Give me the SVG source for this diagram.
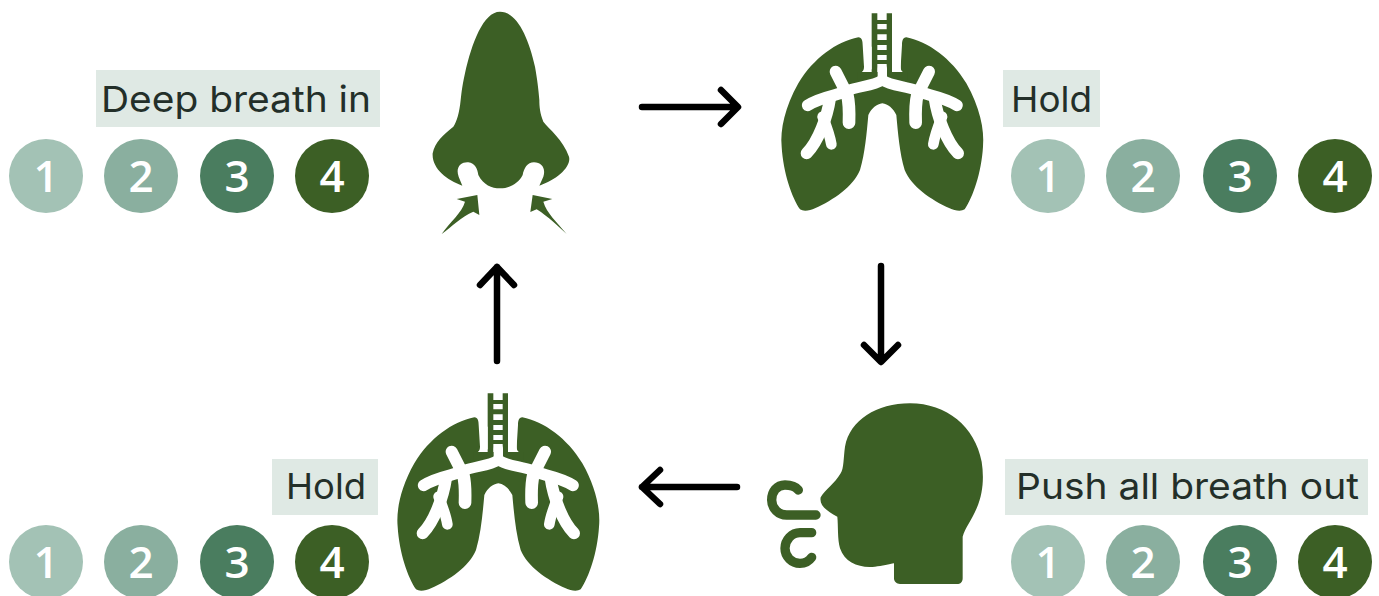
<svg xmlns="http://www.w3.org/2000/svg" width="1379" height="596" viewBox="0 0 1379 596">
<style>
.ink{fill:#3c5f25}
.label{fill:#dfe9e4}
.lt{font-family:"Inter","Liberation Sans",sans-serif;font-size:36px;fill:#232f29}
.n{font-family:"Open Sans","Liberation Sans",sans-serif;font-size:44px;font-weight:600;fill:#fff;text-anchor:middle}
.c1{fill:#a3c2b5}.c2{fill:#8aaf9f}.c3{fill:#4a7d5f}.c4{fill:#3c5f25}
.wb{fill:none;stroke:#fff;stroke-linecap:round;stroke-linejoin:round}
.arrow{fill:none;stroke:#000;stroke-width:6.5;stroke-linecap:round;stroke-linejoin:round}
.breath{fill:none;stroke:#3c5f25;stroke-width:28;stroke-linecap:round}
</style>
<defs>
<g id="lung">
<path class="ink" d="M265,112C200,125 130,175 85,250C45,320 30,390 35,440C40,520 65,590 90,628C100,635 120,632 135,625C190,600 250,560 270,510C285,460 290,400 295,345C305,325 320,312 337,310C354,312 369,325 379,345C384,400 389,460 404,510C424,560 484,600 539,625C554,632 574,635 584,628C609,590 634,520 639,440C644,390 629,320 589,250C544,175 474,125 409,112C398,112 396,125 396,135L392,200C392,212 398,218 408,218C418,218 365,240 337,240C309,240 256,218 266,218C276,218 282,212 282,200L278,135C278,125 276,112 265,112Z"/>
<path class="ink" d="M305,40H322V60H350V40H366V235H305ZM322,72V88H350V72ZM322,103V120H350V103ZM322,135V150H350V135ZM322,165V180H350V165ZM322,192V235H350V192Z" fill-rule="evenodd"/>
<path class="ink" d="M262,216H412V240H262Z"/>
<rect fill="#fff" x="282" y="140" width="23" height="68"/>
<rect fill="#fff" x="366" y="140" width="26" height="68"/>
<g class="wb">
<path stroke-width="28" d="M337,206V232"/>
<path stroke-width="32" d="M337,240C310,258 270,258 232,272"/>
<path stroke-width="32" d="M337,240C364,258 404,258 442,272"/>
<path stroke-width="35" d="M232,274C190,288 150,292 113,316M442,274C484,288 524,292 561,316"/>
<path stroke-width="36" d="M226,272L197,215M448,272L477,215"/>
<path stroke-width="38" d="M232,285C238,310 238,340 237,368M442,285C436,310 436,340 437,368"/>
<path stroke-width="36" d="M180,295C172,350 145,425 110,460M494,295C502,350 529,425 564,460"/>
<path stroke-width="32" d="M158,350C170,380 180,405 184,433M516,350C504,380 494,405 490,433"/>
</g>
</g>
</defs>

<g id="connectors">
<path class="arrow" d="M642,107H737M721,90L738,107L721,124"/>
<path class="arrow" d="M881,266V361M864,345L881,362L898,345"/>
<path class="arrow" d="M737,487H642M660,470L642,487L660,504"/>
<path class="arrow" d="M497,361V267M480,285L497,267L514,285"/>
</g>

<g id="nose">
<g transform="translate(420,0) scale(.33333)">
<path class="ink" d="M240,35C190,35 155,130 135,220C125,265 124,285 122,300C118,340 110,365 100,380C70,405 45,425 38,460C35,505 80,540 127,557L116,530C105,500 125,485 145,487C165,490 172,505 175,525C190,555 215,565 240,565C270,565 295,550 308,525C312,505 322,487 342,487C365,487 378,505 370,530L358,557C410,540 455,500 447,470C430,420 385,385 370,365C360,340 358,320 358,300C355,265 352,240 345,200C325,110 290,35 240,35Z"/>
<path class="ink" d="M110,597L172,585L178,645L160,635C125,650 95,680 65,702C90,665 125,640 135,605Z"/>
<path class="ink" d="M397,597L338,585L331,636L350,628C385,650 415,680 440,702C410,665 380,640 370,605Z"/>
</g>
</g>

<g id="lungs-top"><use href="#lung" transform="translate(770,0) scale(.33333)"/></g>
<g id="lungs-bottom"><use href="#lung" transform="translate(386,380) scale(.33333)"/></g>

<g id="head">
<g transform="translate(750,390) scale(.33333)">
<path class="ink" d="M480,40C380,40 300,90 285,170C280,205 282,235 272,250C255,280 225,300 212,322C208,345 225,360 262,380C265,410 262,445 270,475C285,520 330,535 375,530C395,528 420,522 432,520V565C432,575 440,582 450,582H625C632,582 638,575 638,565V440C645,415 665,390 680,355C700,310 702,260 695,215C675,110 590,40 480,40Z"/>
<path class="breath" d="M145,300C135,288 120,285 105,285C80,285 65,305 65,330C65,355 85,375 110,375H198"/>
<path class="breath" d="M185,428H150C125,428 105,450 105,475C105,500 125,520 150,520C165,520 178,512 185,502"/>
</g>
</g>

<g id="step-in">
<rect class="label" x="96" y="70" width="284" height="57"/>
<text class="lt" x="101" y="112" textLength="270" lengthAdjust="spacingAndGlyphs">Deep breath in</text>
<circle class="c1" cx="46" cy="176" r="37"/><text class="n" x="46" y="192">1</text>
<circle class="c2" cx="141" cy="176" r="37"/><text class="n" x="141" y="192">2</text>
<circle class="c3" cx="237" cy="176" r="37"/><text class="n" x="237" y="192">3</text>
<circle class="c4" cx="332" cy="176" r="37"/><text class="n" x="332" y="192">4</text>
</g>

<g id="step-hold-top">
<rect class="label" x="1003" y="70" width="97" height="57"/>
<text class="lt" x="1011" y="112" textLength="81" lengthAdjust="spacingAndGlyphs">Hold</text>
<circle class="c1" cx="1048" cy="176" r="37"/><text class="n" x="1048" y="192">1</text>
<circle class="c2" cx="1143" cy="176" r="37"/><text class="n" x="1143" y="192">2</text>
<circle class="c3" cx="1240" cy="176" r="37"/><text class="n" x="1240" y="192">3</text>
<circle class="c4" cx="1335" cy="176" r="37"/><text class="n" x="1335" y="192">4</text>
</g>

<g id="step-hold-bottom">
<rect class="label" x="272" y="459" width="106" height="56"/>
<text class="lt" x="286" y="499" textLength="80" lengthAdjust="spacingAndGlyphs">Hold</text>
<circle class="c1" cx="46" cy="562" r="37"/><text class="n" x="46" y="578">1</text>
<circle class="c2" cx="141" cy="562" r="37"/><text class="n" x="141" y="578">2</text>
<circle class="c3" cx="237" cy="562" r="37"/><text class="n" x="237" y="578">3</text>
<circle class="c4" cx="332" cy="562" r="37"/><text class="n" x="332" y="578">4</text>
</g>

<g id="step-out">
<rect class="label" x="1005" y="459" width="363" height="56"/>
<text class="lt" x="1016" y="499" textLength="343" lengthAdjust="spacingAndGlyphs">Push all breath out</text>
<circle class="c1" cx="1048" cy="562" r="37"/><text class="n" x="1048" y="578">1</text>
<circle class="c2" cx="1143" cy="562" r="37"/><text class="n" x="1143" y="578">2</text>
<circle class="c3" cx="1240" cy="562" r="37"/><text class="n" x="1240" y="578">3</text>
<circle class="c4" cx="1335" cy="562" r="37"/><text class="n" x="1335" y="578">4</text>
</g>
</svg>
